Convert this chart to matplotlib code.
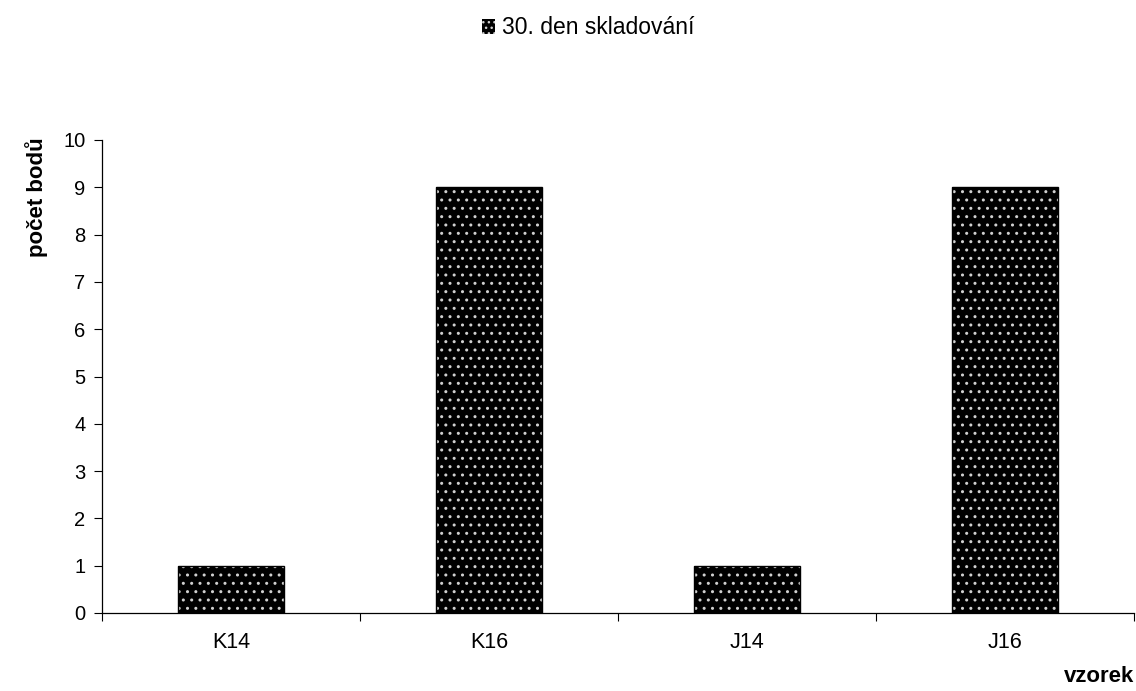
import matplotlib.pyplot as plt
from matplotlib.patches import Patch

plt.rcParams['font.family'] = ['Liberation Sans', 'DejaVu Sans']

vzorky = ['K14', 'K16', 'J14', 'J16']
body = [1, 9, 1, 9]
serie = '30. den skladování'

fig = plt.figure(figsize=(11.36, 6.91), dpi=100)
ax = fig.add_axes([102 / 1136, 1 - 613 / 691, 1032 / 1136, 473 / 691])

x = range(len(vzorky))
# cerne sloupce s bilym teckovanim
ax.bar(x, body, width=0.41, color='black', edgecolor='#d0d0d0', linewidth=0,
       hatch='..', zorder=2)
ax.bar(x, body, width=0.41, fill=False, edgecolor='black', linewidth=1, zorder=3)

ax.set_xlim(-0.5, len(vzorky) - 0.5)
ax.set_ylim(0, 10)
ax.set_yticks(range(0, 11))
ax.set_xticks([i + 0.5 for i in range(-1, len(vzorky))], minor=False)
ax.set_xticklabels([])
ax.set_xticks(list(x), minor=True)
ax.set_xticklabels(vzorky, minor=True)
ax.tick_params(axis='x', which='minor', length=0, pad=14, labelsize=15.5)
ax.tick_params(axis='x', which='major', length=6, direction='out')
ax.tick_params(axis='y', length=6, direction='out', labelsize=14.5, pad=6)

for s in ['top', 'right']:
    ax.spines[s].set_visible(False)
for s in ['left', 'bottom']:
    ax.spines[s].set_color('black')
    ax.spines[s].set_linewidth(0.9)

ax.set_ylabel('počet bodů', fontsize=16, fontweight='bold')
ax.yaxis.set_label_coords(-54 / 1032, 1 - 57 / 473)
fig.text(1134 / 1136, 1 - 677 / 691, 'vzorek', fontsize=16, fontweight='bold',
         ha='right', va='center')

handle = Patch(facecolor='black', edgecolor='#d0d0d0', hatch='...', linewidth=0)
fig.legend([handle], [serie], loc='center', bbox_to_anchor=(588 / 1136, 1 - 28 / 691),
           frameon=False, fontsize=16.5, handlelength=0.6, handleheight=0.6,
           handletextpad=0.3)

fig.savefig('out.png', dpi=100)
